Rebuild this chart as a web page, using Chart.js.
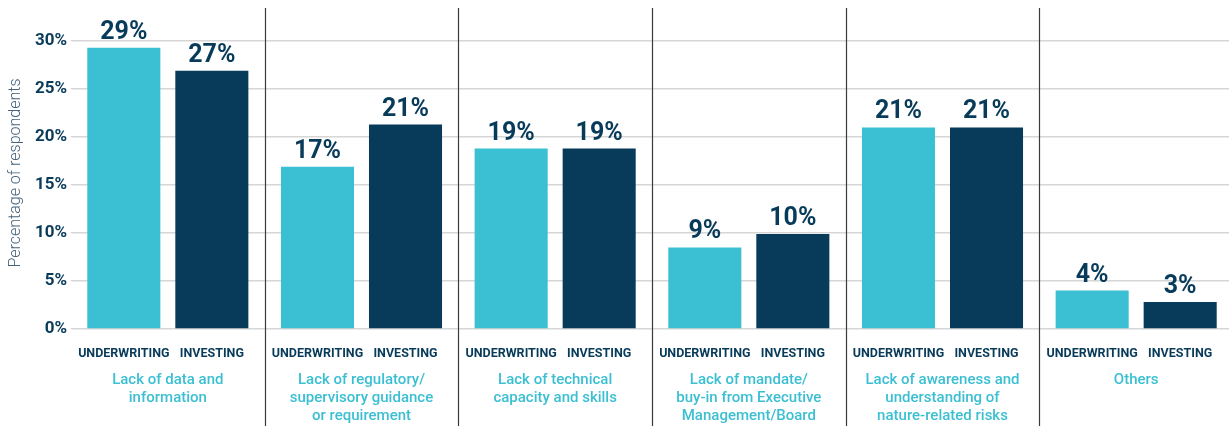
<!DOCTYPE html>
<html>
<head>
<meta charset="utf-8">
<script src="https://cdn.jsdelivr.net/npm/chart.js@4/dist/chart.umd.min.js"></script>
<style>
  html, body { margin: 0; padding: 0; background: #ffffff; overflow: hidden; }
  #wrap { width: 1229px; height: 426px; overflow: hidden; position: relative; }
  canvas { display: block; }
</style>
</head>
<body>
<div id="wrap"><canvas id="c" width="1233" height="426"></canvas></div>
<script>
const categories = [
  ["Lack of data and", "information"],
  ["Lack of regulatory/", "supervisory guidance", "or requirement"],
  ["Lack of technical", "capacity and skills"],
  ["Lack of mandate/", "buy-in from Executive", "Management/Board"],
  ["Lack of awareness and", "understanding of", "nature-related risks"],
  ["Others"]
];
const seriesNames = ["UNDERWRITING", "INVESTING"];
const underwriting = [29.3, 16.9, 18.8, 8.5, 21.0, 4.0];
const investing = [26.9, 21.3, 18.8, 9.9, 21.0, 2.8];
const yTicks = [0, 5, 10, 15, 20, 25, 30];
const yTitle = "Percentage of respondents";
const valueLabels = [
  ["29%", "17%", "19%", "9%", "21%", "4%"],
  ["27%", "21%", "19%", "10%", "21%", "3%"]
];

const CYAN = "#3bbfd2";
const NAVY = "#083b5a";
const FONT = "Roboto, 'Noto Sans', sans-serif";

const overlay = {
  id: "overlay",
  afterDraw(chart) {
    const ctx = chart.ctx;
    const xs = chart.scales.x;
    ctx.save();
    // category separators
    ctx.strokeStyle = "#3a3a3a";
    ctx.lineWidth = 1.2;
    for (let i = 1; i < categories.length; i++) {
      const x = Math.round((xs.getPixelForValue(i - 1) + xs.getPixelForValue(i)) / 2) + 0.5;
      ctx.beginPath();
      ctx.moveTo(x, 8);
      ctx.lineTo(x, chart.height);
      ctx.stroke();
    }
    // value labels and sub labels
    chart.data.datasets.forEach((ds, d) => {
      const meta = chart.getDatasetMeta(d);
      meta.data.forEach((bar, i) => {
        ctx.fillStyle = NAVY;
        ctx.textAlign = "center";
        ctx.textBaseline = "alphabetic";
        ctx.font = "bold 25px " + FONT;
        ctx.fillText(valueLabels[d][i], bar.x, bar.y - 9);
        ctx.font = "bold 12.5px " + FONT;
        ctx.textBaseline = "middle";
        ctx.fillText(seriesNames[d], bar.x, 354);
      });
    });
    // y axis title
    ctx.translate(16, 173);
    ctx.rotate(-Math.PI / 2);
    ctx.fillStyle = "#46637b";
    ctx.font = "300 16px " + FONT;
    ctx.textAlign = "center";
    ctx.textBaseline = "middle";
    ctx.fillText(yTitle, 0, 0);
    ctx.restore();
  }
};

new Chart(document.getElementById("c"), {
  type: "bar",
  data: {
    labels: categories,
    datasets: [
      { label: seriesNames[0], data: underwriting, backgroundColor: CYAN },
      { label: seriesNames[1], data: investing, backgroundColor: NAVY }
    ]
  },
  options: {
    responsive: false,
    animation: false,
    layout: { padding: { top: 41, left: 0, right: 0, bottom: 0 } },
    datasets: { bar: { categoryPercentage: 0.909, barPercentage: 0.83 } },
    plugins: { legend: { display: false }, tooltip: { enabled: false } },
    scales: {
      x: {
        grid: { display: false, drawTicks: false },
        border: { display: false },
        ticks: {
          color: CYAN,
          padding: 42,
          maxRotation: 0,
          autoSkip: false,
          font: { family: FONT, size: 15, weight: "500", lineHeight: 1.2 }
        },
        afterFit(scale) { scale.height = 97; }
      },
      y: {
        min: 0,
        max: 30,
        afterBuildTicks(scale) { scale.ticks = yTicks.map(v => ({ value: v })); },
        grid: { color: "#d6d6d6", lineWidth: 1.5, drawTicks: false },
        border: { display: false },
        ticks: {
          color: NAVY,
          padding: 4,
          font: { family: FONT, size: 17, weight: "bold" },
          callback: v => v + "%"
        },
        title: { display: false },
        afterFit(scale) { scale.width = 71; }
      }
    }
  },
  plugins: [overlay]
});
</script>
</body>
</html>
